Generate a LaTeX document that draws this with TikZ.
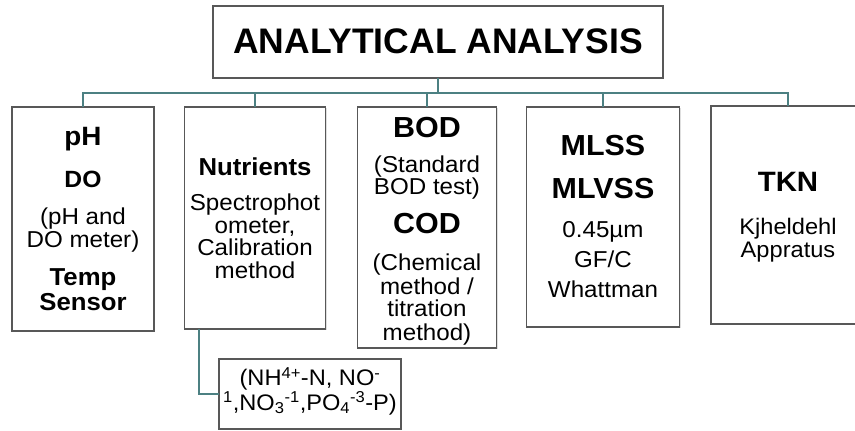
\documentclass[tikz,border=0pt]{standalone}
\usepackage{fontspec}
\setmainfont[FakeStretch=1.05]{Liberation Sans}
\newfontfamily\titlefont{Liberation Sans}
\usetikzlibrary{shadows}
\definecolor{conncol}{RGB}{76,128,130}
\definecolor{boxcol}{RGB}{88,88,88}
\tikzset{
  box/.style={draw=boxcol, line width=1.2pt, fill=white, inner sep=0pt, outer sep=0pt,
    drop shadow={opacity=0.25, shadow xshift=1.2pt, shadow yshift=-1.2pt}},
  conn/.style={draw=conncol, line width=1.8pt},
  reg/.style={anchor=base, inner sep=0pt, font=\fontsize{23}{25}\selectfont},
  hd/.style={anchor=base, inner sep=0pt, font=\fontsize{29}{31}\selectfont\bfseries},
  hdsmall/.style={anchor=base, inner sep=0pt, font=\fontsize{24.5}{26}\selectfont\bfseries},
}
\begin{document}
\begin{tikzpicture}[x=1pt,y=-1pt]
\useasboundingbox (0,0) rectangle (855,431);
\fill[white] (0,0) rectangle (855,431);
% boxes
\node[box, minimum width=450pt, minimum height=72pt] (top) at (438,42) {};
\node[box, minimum width=142pt, minimum height=224pt] (b1) at (83,219) {};
\node[box, minimum width=141pt, minimum height=222pt] (b2) at (255,218) {};
\node[box, minimum width=139pt, minimum height=241pt] (b3) at (427,227.5) {};
\node[box, minimum width=153pt, minimum height=220pt] (b4) at (603,217) {};
\node[box, minimum width=154pt, minimum height=218pt] (b5) at (788,215) {};
\node[box, minimum width=182pt, minimum height=70pt] (sub) at (310,394) {};
% connectors
\coordinate (bus) at (438,93);
\coordinate (subx) at (199,397);
\draw[conn] (top.south) -- (bus);
\draw[conn] (bus) -| (b1.north);
\draw[conn] (bus) -| (b2.north);
\draw[conn] (bus) -| (b3.north);
\draw[conn] (bus) -| (b4.north);
\draw[conn] (bus) -| (b5.north);
\draw[conn] (b2.south -| subx) |- (sub.west);
% title
\node[anchor=base, inner sep=0pt, font=\titlefont\fontsize{35.5}{37}\selectfont\bfseries] (title) at (438,53) {ANALYTICAL ANALYSIS};
% box 1
\node[anchor=base, inner sep=0pt, font=\fontsize{26.5}{28}\selectfont\bfseries] (t1a) at (83,145) {pH};
\node[anchor=base, inner sep=0pt, font=\fontsize{23.5}{25}\selectfont\bfseries] (t1b) at (83,187) {DO};
\node[reg] (t1c) at (83,224) {(pH and};
\node[reg] (t1d) at (83,247.5) {DO meter)};
\node[hdsmall] (t1e) at (83,285.5) {Temp};
\node[hdsmall] (t1f) at (83,310.5) {Sensor};
% box 2
\node[hdsmall] (t2a) at (255,175) {Nutrients};
\node[reg] (t2b) at (255,210.5) {Spectrophot};
\node[reg] (t2c) at (255,233) {ometer,};
\node[reg] (t2d) at (255,255.5) {Calibration};
\node[reg] (t2e) at (255,278) {method};
% box 3
\node[hd] (t3a) at (427,137) {BOD};
\node[reg, align=center, font=\fontsize{23}{19.5}\selectfont] (t3b) at (427,194.5) {(Standard\\BOD test)};
\node[hd] (t3d) at (427,233) {COD};
\node[reg] (t3e) at (427,270) {(Chemical};
\node[reg] (t3f) at (427,294) {method /};
\node[reg] (t3g) at (427,316.5) {titration};
\node[reg] (t3h) at (427,340) {method)};
% box 4
\node[hd] (t4a) at (603,155) {MLSS};
\node[hd] (t4b) at (603,198) {MLVSS};
\node[reg] (t4c) at (603,237) {0.45µm};
\node[reg] (t4d) at (603,267) {GF/C};
\node[reg] (t4e) at (603,297) {Whattman};
% box 5
\node[anchor=base, inner sep=0pt, font=\fontsize{28}{30}\selectfont\bfseries] (t5a) at (788,191) {TKN};
\node[anchor=base, inner sep=0pt, font=\fontsize{22.5}{24}\selectfont] (t5b) at (788,234) {Kjheldehl};
\node[anchor=base, inner sep=0pt, font=\fontsize{22.5}{24}\selectfont] (t5c) at (788,257) {Appratus};
% sub box
\node[anchor=base, inner sep=0pt, align=center, font=\fontsize{22.5}{19.5}\selectfont] (s1) at (310,410)
  {(NH\textsuperscript{4+}-N, NO\textsuperscript{-}\\\textsuperscript{1},NO\textsubscript{3}\textsuperscript{-1},PO\textsubscript{4}\textsuperscript{-3}-P)};
\end{tikzpicture}
\end{document}
